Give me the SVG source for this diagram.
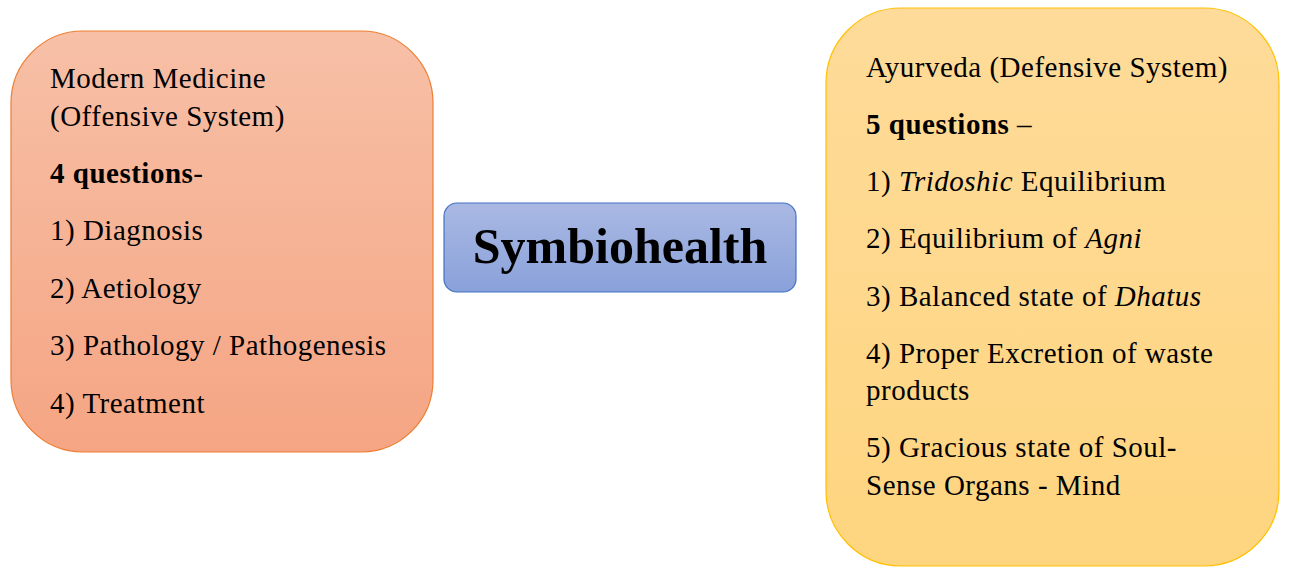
<svg xmlns="http://www.w3.org/2000/svg" width="1289" height="568" viewBox="0 0 1289 568">
<defs>
<linearGradient id="gOrange" x1="0" y1="0" x2="0" y2="1">
<stop offset="0" stop-color="#F7C0A7"/>
<stop offset="1" stop-color="#F5A583"/>
</linearGradient>
<linearGradient id="gBlue" x1="0" y1="0" x2="0" y2="1">
<stop offset="0" stop-color="#AAB9E3"/>
<stop offset="1" stop-color="#89A1DA"/>
</linearGradient>
<linearGradient id="gGold" x1="0" y1="0" x2="0" y2="1">
<stop offset="0" stop-color="#FEDB9A"/>
<stop offset="1" stop-color="#FED57F"/>
</linearGradient>
</defs>
<style>
text{font-family:"Liberation Serif","Times New Roman",serif;font-size:29px;letter-spacing:0.5px;fill:#000}
.b{font-weight:bold}
.i{font-style:italic}
.title{font-size:50px;font-weight:bold;letter-spacing:0}
</style>
<rect width="1289" height="568" fill="#fff"/>
<g id="modern-medicine">
<rect x="11" y="31" width="422" height="421" rx="72" ry="72" fill="url(#gOrange)" stroke="#ED7D31" stroke-width="1.2"/>
<text x="50" y="88">Modern Medicine</text>
<text x="50" y="126">(Offensive System)</text>
<text x="50" y="183"><tspan class="b">4 questions</tspan>-</text>
<text x="50" y="240">1) Diagnosis</text>
<text x="50" y="298">2) Aetiology</text>
<text x="50" y="355">3) Pathology / Pathogenesis</text>
<text x="50" y="413">4) Treatment</text>
</g>
<g id="symbiohealth">
<rect x="444" y="203" width="352" height="89" rx="13" ry="13" fill="url(#gBlue)" stroke="#4472C4" stroke-width="1.2"/>
<text class="title" x="620" y="263" text-anchor="middle">Symbiohealth</text>
</g>
<g id="ayurveda">
<rect x="826" y="8" width="453" height="558" rx="75" ry="75" fill="url(#gGold)" stroke="#FFC000" stroke-width="1.2"/>
<text x="866" y="77">Ayurveda (Defensive System)</text>
<text x="866" y="134"><tspan class="b">5 questions</tspan> –</text>
<text x="866" y="191">1) <tspan class="i">Tridoshic</tspan> Equilibrium</text>
<text x="866" y="248">2) Equilibrium of <tspan class="i">Agni</tspan></text>
<text x="866" y="306">3) Balanced state of <tspan class="i">Dhatus</tspan></text>
<text x="866" y="363">4) Proper Excretion of waste</text>
<text x="866" y="400">products</text>
<text x="866" y="457">5) Gracious state of Soul-</text>
<text x="866" y="495">Sense Organs - Mind</text>
</g>
<g id="connectors"></g>
</svg>
